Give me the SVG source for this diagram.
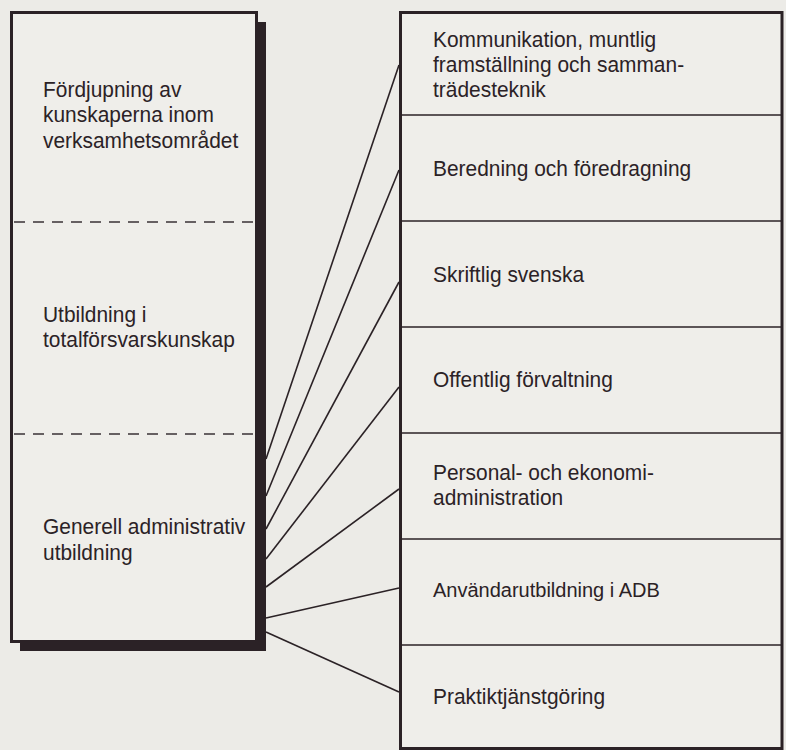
<svg xmlns="http://www.w3.org/2000/svg" width="786" height="750" viewBox="0 0 786 750">
<style>
text{font-family:"Liberation Sans",Arial,sans-serif;font-size:22.5px;fill:#2b2226}
.box{fill:#efeeea;stroke:#2b2226;stroke-width:3}
.shadow{fill:#2b2226}
.sep{stroke:#2b2226;stroke-width:1.5}
.dash{stroke:#3a3236;stroke-width:1.3;stroke-dasharray:11 8}
.conn line{stroke:#2b2226;stroke-width:1.6}
</style>
<rect width="786" height="750" fill="#ecebe7"/>
<g id="left-box">
<rect class="shadow" x="20" y="22" width="246" height="629"/>
<rect class="box" x="11.5" y="12.5" width="245" height="629"/>
<line class="dash" x1="14" y1="222" x2="256" y2="222"/>
<line class="dash" x1="14" y1="434" x2="256" y2="434"/>
</g>
<g id="left-1" transform="translate(43 0) scale(0.93 1)"><text x="0" y="97">Fördjupning av</text><text x="0" y="122.5">kunskaperna inom</text><text x="0" y="148">verksamhetsområdet</text></g>
<g id="left-2" transform="translate(43 0) scale(0.93 1)"><text x="0" y="322">Utbildning i</text><text x="0" y="347">totalförsvarskunskap</text></g>
<g id="left-3" transform="translate(43 0) scale(0.93 1)"><text x="0" y="534">Generell administrativ</text><text x="0" y="560">utbildning</text></g>
<g id="right-box">
<rect class="box" x="400.5" y="12.5" width="381.5" height="736"/>
<line class="sep" x1="401" y1="115" x2="781" y2="115"/>
<line class="sep" x1="401" y1="221" x2="781" y2="221"/>
<line class="sep" x1="401" y1="327" x2="781" y2="327"/>
<line class="sep" x1="401" y1="433" x2="781" y2="433"/>
<line class="sep" x1="401" y1="539" x2="781" y2="539"/>
<line class="sep" x1="401" y1="645" x2="781" y2="645"/>
</g>
<g id="r1" transform="translate(433 0) scale(0.93 1)"><text x="0" y="47">Kommunikation, muntlig</text><text x="0" y="72">framställning och samman-</text><text x="0" y="97">trädesteknik</text></g>
<g id="r2" transform="translate(433 0) scale(0.93 1)"><text x="0" y="176">Beredning och föredragning</text></g>
<g id="r3" transform="translate(433 0) scale(0.93 1)"><text x="0" y="282">Skriftlig svenska</text></g>
<g id="r4" transform="translate(433 0) scale(0.93 1)"><text x="0" y="387">Offentlig förvaltning</text></g>
<g id="r5" transform="translate(433 0) scale(0.93 1)"><text x="0" y="480">Personal- och ekonomi-</text><text x="0" y="505">administration</text></g>
<g id="r6" transform="translate(433 0)"><text x="0" y="597" style="font-size:20px">Användarutbildning i ADB</text></g>
<g id="r7" transform="translate(433 0) scale(0.93 1)"><text x="0" y="704">Praktiktjänstgöring</text></g>
<g id="connectors" class="conn">
<line x1="266" y1="459" x2="399" y2="65"/>
<line x1="266" y1="496" x2="399" y2="170"/>
<line x1="266" y1="529" x2="399" y2="282"/>
<line x1="266" y1="559" x2="399" y2="387"/>
<line x1="266" y1="587" x2="399" y2="489"/>
<line x1="266" y1="618" x2="399" y2="588"/>
<line x1="266" y1="632" x2="399" y2="692"/>
</g>
</svg>
